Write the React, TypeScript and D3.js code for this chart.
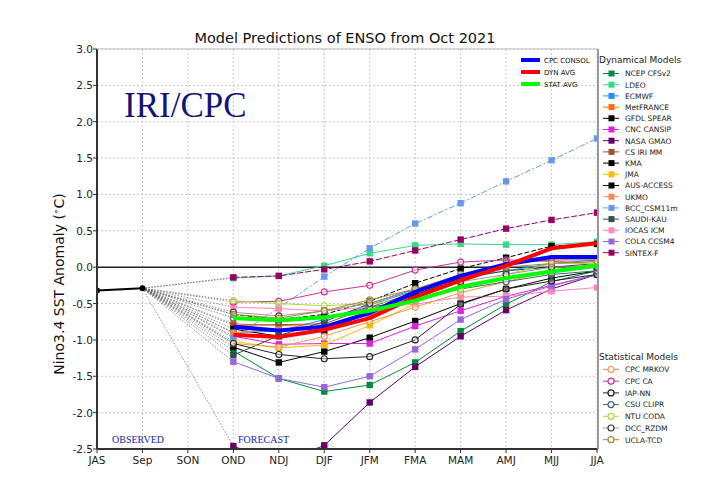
import React from "react";
import * as d3 from "d3";

const seasons = ["JAS", "Sep", "SON", "OND", "NDJ", "DJF", "JFM", "FMA", "MAM", "AMJ", "MJJ", "JJA"];
const forecastSeasons = ["OND", "NDJ", "DJF", "JFM", "FMA", "MAM", "AMJ", "MJJ", "JJA"];
const yTicks = [3.0, 2.5, 2.0, 1.5, 1.0, 0.5, 0.0, -0.5, -1.0, -1.5, -2.0, -2.5];

const observedSeasons = ["JAS", "Sep"];
const observedValues = [-0.32, -0.29];

// Dynamical models (OND .. JJA)
const dynNames = ["NCEP CFSv2", "LDEO", "ECMWF", "MetFRANCE", "GFDL SPEAR", "CNC CANSIP", "NASA GMAO", "CS IRI MM", "KMA", "JMA", "AUS-ACCESS", "UKMO", "BCC_CSM11m", "SAUDI-KAU", "IOCAS ICM", "COLA CCSM4", "SINTEX-F"];
const ncep = [-1.15, -1.53, -1.71, -1.62, -1.31, -0.88, -0.51, -0.2, -0.05];
const ldeo = [-0.15, -0.12, 0.02, 0.19, 0.3, 0.32, 0.31, 0.31, 0.35];
const ecmwf = [-0.9, -0.88, -0.72, -0.52, -0.32, -0.15, -0.05, 0.05, 0.1];
const metfrance = [-0.78, -0.8, -0.82, -0.65, -0.45, -0.25, null, null, null];
const gfdl = [-1.1, -1.31, -1.16, -0.97, -0.74, -0.5, -0.3, -0.15, -0.05];
const cansip = [-0.95, -1.06, -1.05, -1.05, -0.81, -0.6, -0.4, -0.25, -0.1];
const gmao = [-2.46, -2.7, -2.45, -1.86, -1.37, -0.95, -0.59, -0.3, -0.1];
const csirimm = [-0.8, -0.79, -0.78, -0.55, -0.35, -0.12, 0.05, 0.1, 0.1];
const kma = [-0.65, -0.72, -0.65, -0.47, -0.22, -0.02, 0.13, 0.29, 0.32];
const jma = [-1.02, -1.11, -1.07, -0.8, -0.5, null, null, null, null];
const ausaccess = [-0.85, -0.95, -0.88, -0.62, -0.38, -0.15, null, null, null];
const ukmo = [-0.9, -0.86, -0.8, -0.65, -0.45, null, null, null, null];
const bcc = [-0.97, -0.56, -0.13, 0.26, 0.6, 0.88, 1.18, 1.47, 1.77];
const saudi = [-1.21, -0.94, -0.75, -0.5, -0.3, -0.15, -0.05, 0.0, 0.05];
const iocas = [-0.55, -0.57, -0.6, -0.55, -0.51, -0.41, -0.4, -0.33, -0.28];
const cola = [-1.3, -1.53, -1.65, -1.5, -1.13, -0.72, -0.44, -0.26, -0.1];
const sintex = [-0.14, -0.12, -0.03, 0.08, 0.23, 0.38, 0.53, 0.65, 0.75];
const dynValues = [ncep, ldeo, ecmwf, metfrance, gfdl, cansip, gmao, csirimm, kma, jma, ausaccess, ukmo, bcc, saudi, iocas, cola, sintex];

// Statistical models
const statNames = ["CPC MRKOV", "CPC CA", "IAP-NN", "CSU CLIPR", "NTU CODA", "DCC_RZDM", "UCLA-TCD"];
const mrkov = [-1.05, -1.1, -0.95, -0.75, -0.55, -0.35, -0.2, -0.05, 0.05];
const cpcca = [-0.48, -0.47, -0.34, -0.25, -0.04, 0.07, 0.1, 0.08, 0.05];
const iapnn = [-1.05, -1.2, -1.26, -1.23, -1.0, -0.51, -0.3, -0.19, -0.1];
const csuclipr = [-0.7, -0.75, -0.7, -0.55, -0.45, -0.3, -0.2, -0.1, -0.05];
const ntucoda = [-0.46, -0.5, -0.53, -0.5, -0.45, -0.3, -0.1, 0.05, 0.05];
const dccrzdm = [-0.62, -0.67, -0.6, -0.5, -0.3, -0.2, -0.1, 0.0, 0.0];
const uclatcd = [-0.65, -0.7, -0.6, -0.45, -0.3, -0.1, 0.0, 0.05, 0.08];
const statValues = [mrkov, cpcca, iapnn, csuclipr, ntucoda, dccrzdm, uclatcd];

// Averages
const avgNames = ["CPC CONSOL", "DYN AVG", "STAT AVG"];
const cpcConsol = [-0.82, -0.87, -0.82, -0.63, -0.34, -0.12, 0.04, 0.14, 0.14];
const dynAvg = [-0.93, -0.96, -0.86, -0.7, -0.41, -0.18, 0.02, 0.26, 0.33];
const statAvg = [-0.7, -0.73, -0.69, -0.6, -0.46, -0.27, -0.15, -0.06, 0.02];
const avgValues = [cpcConsol, dynAvg, statAvg];

const dynColors = ["#008a3e", "#33dd88", "#2090ff", "#ff6a10", "#000000", "#dd22dd", "#660066", "#a0522d", "#000000", "#ffbb00", "#000000", "#f58a50", "#6699ee", "#2f4f4f", "#ff88bb", "#9966dd", "#990066"];
const dynDash = [null, null, null, null, null, null, null, null, "5,2", null, null, null, "6,2,2,2", null, null, null, "6,2"];
const statColors = ["#ee9944", "#cc3399", "#222222", "#446677", "#aadd33", "#333333", "#aa8833"];
const statLineColors = ["#ee9944", "#cc3399", "#222222", "#446677", "#aadd33", "#999999", "#aa8833"];
const avgColors = ["#0000ff", "#ff0000", "#00ff00"];

const W = 720, H = 497;
const left = 97, right = 597, top = 49, bottom = 449;

export default function App() {
  const x = d3.scalePoint<string>().domain(seasons).range([left, right]);
  const y = d3.scaleLinear().domain([-2.5, 3]).range([bottom, top]);

  const line = d3
    .line<[string, number | null]>()
    .defined((d) => d[1] !== null)
    .x((d) => x(d[0]) as number)
    .y((d) => y(d[1] as number));

  const pairs = (vals: (number | null)[]) => forecastSeasons.map((s, i) => [s, vals[i]] as [string, number | null]);

  const sepX = x("Sep") as number;
  const sepY = y(observedValues[1]);

  const allForecast = [...dynValues, ...statValues];

  const renderModel = (vals: (number | null)[], color: string, lineColor: string, dash: string | null, circle: boolean, key: string) => (
    <g key={key}>
      <path d={line(pairs(vals)) || ""} fill="none" stroke={lineColor} strokeWidth={1} strokeDasharray={dash || undefined} />
      {pairs(vals)
        .filter((d) => d[1] !== null)
        .map((d, i) =>
          circle ? (
            <circle key={i} cx={x(d[0])} cy={y(d[1] as number)} r={3} fill="white" fillOpacity={0.4} stroke={color} strokeWidth={1.1} />
          ) : (
            <rect key={i} x={(x(d[0]) as number) - 3.2} y={y(d[1] as number) - 3.2} width={6.4} height={6.4} fill={color} />
          )
        )}
    </g>
  );

  return (
    <svg width={W} height={H} style={{ position: "absolute", left: 0, top: 0, background: "white" }} fontFamily="DejaVu Sans, sans-serif">
      <defs>
        <clipPath id="plotclip">
          <rect x={left} y={top} width={right - left + 1} height={bottom - top} />
        </clipPath>
      </defs>
      <rect x={0} y={0} width={W} height={H} fill="white" />
      {/* grid */}
      {seasons.map((s) => (
        <line key={s} x1={x(s)} x2={x(s)} y1={top} y2={bottom} stroke="#c8c8c8" strokeWidth={1} strokeDasharray="2,2" />
      ))}
      {yTicks.map((t) => (
        <line key={t} x1={left} x2={right} y1={y(t)} y2={y(t)} stroke="#c8c8c8" strokeWidth={1} strokeDasharray="2,2" />
      ))}
      {/* title */}
      <text x={345} y={43} textAnchor="middle" fontSize={14.5} fill="#111">Model Predictions of ENSO from Oct 2021</text>
      {/* IRI/CPC */}
      <text x={124} y={117} fontFamily="Liberation Serif, serif" fontSize={35} fill="#141478">IRI/CPC</text>
      <text x={112} y={443} fontFamily="Liberation Serif, serif" fontSize={10} fill="#2222aa">OBSERVED</text>
      <text x={238} y={443} fontFamily="Liberation Serif, serif" fontSize={10} fill="#2222aa">FORECAST</text>

      <g clipPath="url(#plotclip)">
        {/* zero line */}
        <line x1={left} x2={right} y1={y(0)} y2={y(0)} stroke="#222" strokeWidth={1.5} />
        {/* connectors from Sep */}
        {allForecast.map((vals, i) => (
          <line key={"c" + i} x1={sepX} y1={sepY} x2={x("OND")} y2={y(vals[0] as number)} stroke="#666" strokeWidth={0.7} strokeDasharray="1.5,1.5" />
        ))}
        {dynValues.map((vals, i) => renderModel(vals, dynColors[i], dynColors[i], dynDash[i], false, "d" + i))}
        {statValues.map((vals, i) => renderModel(vals, statColors[i], statLineColors[i], null, true, "s" + i))}
        {avgValues.map((vals, i) => (
          <path key={"a" + i} d={line(pairs(vals)) || ""} fill="none" stroke={avgColors[i]} strokeWidth={4} strokeLinejoin="round" />
        ))}
        {/* observed */}
        <path
          d={d3.line<number>().x((_, i) => x(observedSeasons[i]) as number).y((v) => y(v))(observedValues) || ""}
          fill="none"
          stroke="#000"
          strokeWidth={2}
        />
        {observedValues.map((v, i) => (
          <circle key={i} cx={x(observedSeasons[i])} cy={y(v)} r={3} fill="#000" />
        ))}
      </g>

      {/* frame */}
      <line x1={left} x2={left} y1={top} y2={bottom} stroke="#333" strokeWidth={2} />
      <line x1={left} x2={right + 1} y1={bottom} y2={bottom} stroke="#333" strokeWidth={2} />
      <line x1={right + 1} x2={right + 1} y1={top} y2={bottom} stroke="#999" strokeWidth={2} />
      <line x1={left} x2={right + 1} y1={top} y2={top} stroke="#bbb" strokeWidth={1} />

      {/* axes ticks */}
      {yTicks.map((t) => (
        <g key={"yt" + t}>
          <line x1={left - 4} x2={left} y1={y(t)} y2={y(t)} stroke="#333" />
          <text x={left - 4} y={y(t) + 4} textAnchor="end" fontSize={10.5} fill="#222">{t.toFixed(1)}</text>
        </g>
      ))}
      {seasons.map((s) => (
        <g key={"xt" + s}>
          <line x1={x(s)} x2={x(s)} y1={bottom} y2={bottom + 4} stroke="#333" />
          <text x={x(s)} y={bottom + 15} textAnchor="middle" fontSize={10.5} fill="#222">{s}</text>
        </g>
      ))}
      <text transform={`translate(64,${(top + bottom) / 2 + 35}) rotate(-90)`} textAnchor="middle" fontSize={14} fill="#111">
        Nino3.4 SST Anomaly (<tspan fontSize={9} dy={-5}>∘</tspan><tspan dy={5}>C)</tspan>
      </text>

      {/* average legend */}
      {avgNames.map((n, i) => (
        <g key={"al" + i}>
          <line x1={521} x2={540} y1={60 + i * 12} y2={60 + i * 12} stroke={avgColors[i]} strokeWidth={4} />
          <text x={544} y={63 + i * 12} fontSize={7} fill="#111">{n}</text>
        </g>
      ))}

      {/* dynamical legend */}
      <text x={599} y={63} fontSize={9} fill="#222">Dynamical Models</text>
      {dynNames.map((n, i) => {
        const yy = 73.5 + i * 11.2;
        return (
          <g key={"dl" + i}>
            <line x1={603} x2={619} y1={yy} y2={yy} stroke={dynColors[i]} strokeWidth={1} />
            <rect x={608.5} y={yy - 3} width={6} height={6} fill={dynColors[i]} />
            <text x={625} y={yy + 2.8} fontSize={7.5} fill="#222">{n}</text>
          </g>
        );
      })}

      {/* statistical legend */}
      <text x={599} y={360} fontSize={9} fill="#222">Statistical Models</text>
      {statNames.map((n, i) => {
        const yy = 369.5 + i * 11.7;
        return (
          <g key={"sl" + i}>
            <line x1={603} x2={619} y1={yy} y2={yy} stroke={statLineColors[i]} strokeWidth={1} />
            <circle cx={611} cy={yy} r={3} fill="white" stroke={statColors[i]} strokeWidth={1.2} />
            <text x={625} y={yy + 2.8} fontSize={7.5} fill="#222">{n}</text>
          </g>
        );
      })}
    </svg>
  );
}
